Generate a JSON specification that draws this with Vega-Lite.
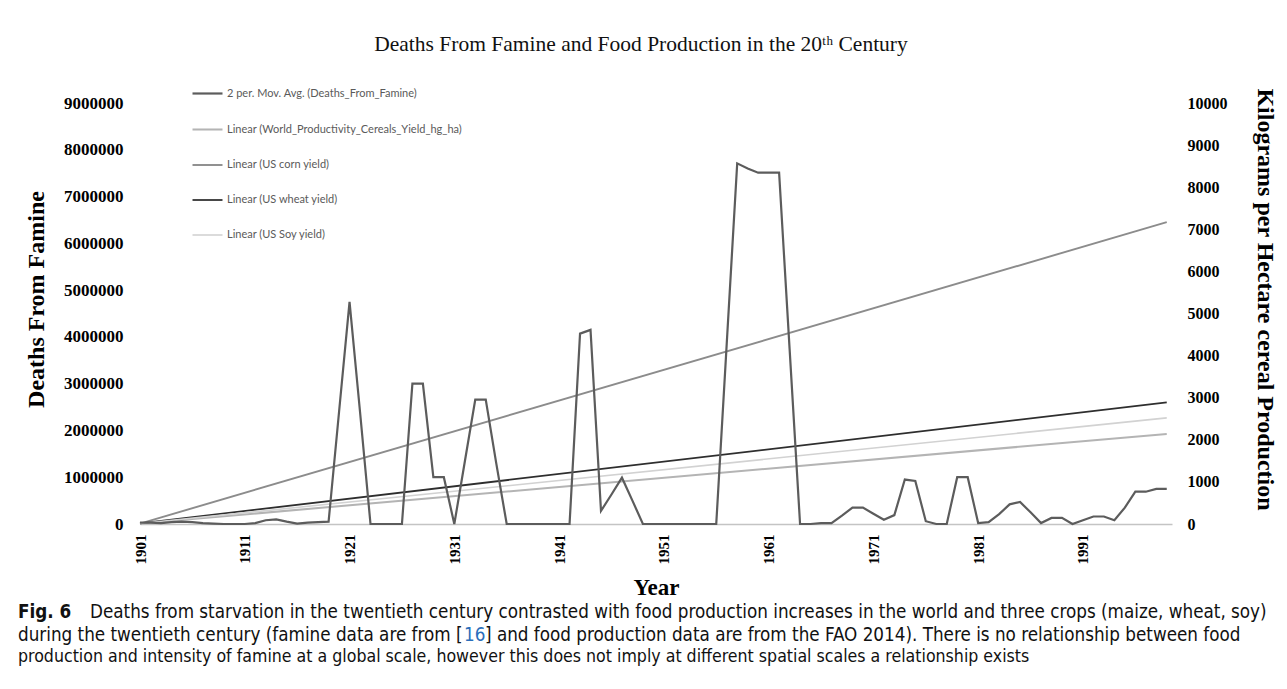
{
  "$schema": "https://vega.github.io/schema/vega-lite/v6.json",
  "background": "white",
  "padding": {"left": 18, "top": 34, "right": 4, "bottom": 5},
  "columns": 1,
  "align": "none",
  "bounds": "full",
  "spacing": 4,
  "datasets": {
    "famine": [
      {"s":"famine","year":1901,"deaths":30000},{"s":"famine","year":1902,"deaths":30000},{"s":"famine","year":1903,"deaths":20000},{"s":"famine","year":1904,"deaths":40000},{"s":"famine","year":1905,"deaths":50000},{"s":"famine","year":1906,"deaths":40000},{"s":"famine","year":1907,"deaths":20000},{"s":"famine","year":1908,"deaths":10000},{"s":"famine","year":1909,"deaths":0},{"s":"famine","year":1910,"deaths":0},
      {"s":"famine","year":1911,"deaths":0},{"s":"famine","year":1912,"deaths":20000},{"s":"famine","year":1913,"deaths":80000},{"s":"famine","year":1914,"deaths":100000},{"s":"famine","year":1915,"deaths":50000},{"s":"famine","year":1916,"deaths":10000},{"s":"famine","year":1917,"deaths":30000},{"s":"famine","year":1918,"deaths":40000},{"s":"famine","year":1919,"deaths":50000},{"s":"famine","year":1920,"deaths":2400000},
      {"s":"famine","year":1921,"deaths":4750000},{"s":"famine","year":1922,"deaths":2400000},{"s":"famine","year":1923,"deaths":0},{"s":"famine","year":1924,"deaths":0},{"s":"famine","year":1925,"deaths":0},{"s":"famine","year":1926,"deaths":0},{"s":"famine","year":1927,"deaths":3000000},{"s":"famine","year":1928,"deaths":3000000},{"s":"famine","year":1929,"deaths":1000000},{"s":"famine","year":1930,"deaths":1000000},
      {"s":"famine","year":1931,"deaths":0},{"s":"famine","year":1932,"deaths":1330000},{"s":"famine","year":1933,"deaths":2660000},{"s":"famine","year":1934,"deaths":2660000},{"s":"famine","year":1935,"deaths":1300000},{"s":"famine","year":1936,"deaths":0},{"s":"famine","year":1937,"deaths":0},{"s":"famine","year":1938,"deaths":0},{"s":"famine","year":1939,"deaths":0},{"s":"famine","year":1940,"deaths":0},
      {"s":"famine","year":1941,"deaths":0},{"s":"famine","year":1942,"deaths":0},{"s":"famine","year":1943,"deaths":4070000},{"s":"famine","year":1944,"deaths":4150000},{"s":"famine","year":1945,"deaths":280000},{"s":"famine","year":1946,"deaths":630000},{"s":"famine","year":1947,"deaths":990000},{"s":"famine","year":1948,"deaths":500000},{"s":"famine","year":1949,"deaths":0},{"s":"famine","year":1950,"deaths":0},
      {"s":"famine","year":1951,"deaths":0},{"s":"famine","year":1952,"deaths":0},{"s":"famine","year":1953,"deaths":0},{"s":"famine","year":1954,"deaths":0},{"s":"famine","year":1955,"deaths":0},{"s":"famine","year":1956,"deaths":0},{"s":"famine","year":1957,"deaths":3850000},{"s":"famine","year":1958,"deaths":7710000},{"s":"famine","year":1959,"deaths":7600000},{"s":"famine","year":1960,"deaths":7510000},
      {"s":"famine","year":1961,"deaths":7510000},{"s":"famine","year":1962,"deaths":7510000},{"s":"famine","year":1963,"deaths":3750000},{"s":"famine","year":1964,"deaths":0},{"s":"famine","year":1965,"deaths":0},{"s":"famine","year":1966,"deaths":20000},{"s":"famine","year":1967,"deaths":20000},{"s":"famine","year":1968,"deaths":180000},{"s":"famine","year":1969,"deaths":350000},{"s":"famine","year":1970,"deaths":350000},
      {"s":"famine","year":1971,"deaths":220000},{"s":"famine","year":1972,"deaths":90000},{"s":"famine","year":1973,"deaths":190000},{"s":"famine","year":1974,"deaths":950000},{"s":"famine","year":1975,"deaths":920000},{"s":"famine","year":1976,"deaths":60000},{"s":"famine","year":1977,"deaths":0},{"s":"famine","year":1978,"deaths":0},{"s":"famine","year":1979,"deaths":1000000},{"s":"famine","year":1980,"deaths":1000000},
      {"s":"famine","year":1981,"deaths":20000},{"s":"famine","year":1982,"deaths":40000},{"s":"famine","year":1983,"deaths":210000},{"s":"famine","year":1984,"deaths":420000},{"s":"famine","year":1985,"deaths":470000},{"s":"famine","year":1986,"deaths":250000},{"s":"famine","year":1987,"deaths":20000},{"s":"famine","year":1988,"deaths":130000},{"s":"famine","year":1989,"deaths":130000},{"s":"famine","year":1990,"deaths":0},
      {"s":"famine","year":1991,"deaths":80000},{"s":"famine","year":1992,"deaths":160000},{"s":"famine","year":1993,"deaths":160000},{"s":"famine","year":1994,"deaths":80000},{"s":"famine","year":1995,"deaths":350000},{"s":"famine","year":1996,"deaths":690000},{"s":"famine","year":1997,"deaths":690000},{"s":"famine","year":1998,"deaths":750000},{"s":"famine","year":1999,"deaths":750000}
    ],
    "trends": [
      {"s":"world","year":1901,"kg":10},{"s":"world","year":1999,"kg":2140},
      {"s":"corn","year":1901,"kg":10},{"s":"corn","year":1999,"kg":7170},
      {"s":"wheat","year":1901,"kg":15},{"s":"wheat","year":1999,"kg":2890},
      {"s":"soy","year":1901,"kg":10},{"s":"soy","year":1999,"kg":2520}
    ],
    "caption": [
      {"line":1,"part":"fig","text":"Fig. 6"},
      {"line":1,"part":"first","text":"Deaths from starvation in the twentieth century contrasted with food production increases in the world and three crops (maize, wheat, soy)"},
      {"line":2,"part":"l2a","text":"during the twentieth century (famine data are from ["},
      {"line":2,"part":"l2b","text":"16"},
      {"line":2,"part":"l2c","text":"] and food production data are from the FAO 2014). There is no relationship between food"},
      {"line":3,"part":"last","text":"production and intensity of famine at a global scale, however this does not imply at different spatial scales a relationship exists"}
    ]
  },
  "concat": [
    {
      "title": {"text": "Deaths From Famine and Food Production in the 20ᵗʰ Century", "font": "Liberation Serif", "fontSize": 21.5, "fontWeight": "normal", "color": "#111111", "anchor": "middle", "offset": 32, "dx": -15},
      "width": 1032,
      "height": 421,
      "layer": [
        {
          "data": {"name": "trends"},
          "mark": {"type": "line"},
          "encoding": {
            "x": {"field": "year", "type": "quantitative", "scale": {"domain": [1901, 1999.5], "nice": false, "zero": false},
                  "axis": {"values": [1901,1911,1921,1931,1941,1951,1961,1971,1981,1991], "format": "d", "labelAngle": -90, "labelPadding": 10, "title": "Year", "titlePadding": 12, "titleFontSize": 23}},
            "y": {"field": "kg", "type": "quantitative", "scale": {"domain": [0, 10000], "nice": false},
                  "axis": {"orient": "right", "values": [0,1000,2000,3000,4000,5000,6000,7000,8000,9000,10000], "format": "d", "labelPadding": 15, "title": "Kilograms per Hectare cereal Production", "titlePadding": 25, "titleFontSize": 24, "titleY": 196}},
            "color": {"field": "s", "type": "nominal",
                      "scale": {"domain": ["famine","world","corn","wheat","soy"], "range": ["#5c5c5c","#b4b4b4","#8c8c8c","#2e2e2e","#d2d2d2"]},
                      "legend": {"orient": "none", "legendX": 51, "legendY": -26, "title": null, "symbolType": "stroke", "symbolSize": 900, "labelOffset": 3, "labelFont": "Lato", "labelFontSize": 11, "labelColor": "#5a5a5a", "labelLimit": 400, "rowPadding": 14,
                                 "labelExpr": "{'famine': '2 per. Mov. Avg. (Deaths_From_Famine)', 'world': 'Linear (World_Productivity_Cereals_Yield_hg_ha)', 'corn': 'Linear (US corn yield)', 'wheat': 'Linear (US wheat yield)', 'soy': 'Linear (US Soy yield)'}[datum.label]"}},
            "strokeWidth": {"field": "s", "type": "nominal", "scale": {"domain": ["famine","world","corn","wheat","soy"], "range": [2.2, 1.6, 1.8, 2.2, 1.6]}, "legend": null}
          }
        },
        {
          "data": {"name": "famine"},
          "mark": {"type": "line"},
          "encoding": {
            "x": {"field": "year", "type": "quantitative", "scale": {"domain": [1901, 1999.5], "nice": false, "zero": false},
                  "axis": {"values": [1901,1911,1921,1931,1941,1951,1961,1971,1981,1991], "format": "d", "labelAngle": -90, "labelPadding": 10, "title": "Year", "titlePadding": 12, "titleFontSize": 23}},
            "y": {"field": "deaths", "type": "quantitative", "scale": {"domain": [0, 9000000], "nice": false},
                  "axis": {"orient": "left", "values": [0,1000000,2000000,3000000,4000000,5000000,6000000,7000000,8000000,9000000], "format": "d", "labelPadding": 17, "labelFontSize": 17, "title": "Deaths From Famine", "titlePadding": 15, "titleFontSize": 24, "titleY": 196}},
            "color": {"field": "s", "type": "nominal"},
            "strokeWidth": {"field": "s", "type": "nominal", "legend": null}
          }
        }
      ],
      "resolve": {"scale": {"y": "independent"}}
    },
    {
      "width": 1000,
      "height": 45,
      "data": {"name": "caption"},
      "encoding": {"x": {"value": -122}, "y": {"field": "line", "type": "ordinal", "axis": null, "scale": {"type": "point", "padding": 0}}, "text": {"field": "text"}},
      "layer": [
        {
          "transform": [{"filter": "datum.part == 'fig'"}],
          "mark": {"type": "text", "align": "left", "baseline": "middle", "font": "DejaVu Sans Condensed, sans-serif", "fontSize": 18.7, "fontWeight": "bold", "color": "#111111"}
        },
        {
          "transform": [{"filter": "datum.part == 'first'"}],
          "mark": {"type": "text", "align": "left", "baseline": "middle", "font": "DejaVu Sans Condensed, sans-serif", "fontSize": 18.7, "color": "#111111", "dx": 72}
        },
        {
          "transform": [{"filter": "datum.part == 'l2a'"}],
          "mark": {"type": "text", "align": "left", "baseline": "middle", "font": "DejaVu Sans Condensed, sans-serif", "fontSize": 18.7, "color": "#111111"}
        },
        {
          "transform": [{"filter": "datum.part == 'l2b'"}],
          "mark": {"type": "text", "align": "left", "baseline": "middle", "font": "DejaVu Sans Condensed, sans-serif", "fontSize": 18.7, "color": "#2a6ebb", "dx": 446}
        },
        {
          "transform": [{"filter": "datum.part == 'l2c'"}],
          "mark": {"type": "text", "align": "left", "baseline": "middle", "font": "DejaVu Sans Condensed, sans-serif", "fontSize": 18.7, "color": "#111111", "dx": 467}
        },
        {
          "transform": [{"filter": "datum.part == 'last'"}],
          "mark": {"type": "text", "align": "left", "baseline": "middle", "font": "DejaVu Sans Condensed, sans-serif", "fontSize": 17.6, "color": "#111111"}
        }
      ]
    }
  ],
  "config": {
    "view": {"stroke": null},
    "axis": {"labelFont": "Liberation Serif", "labelFontWeight": "bold", "labelFontSize": 16, "labelColor": "#000000", "titleFont": "Liberation Serif", "titleFontWeight": "bold", "titleFontSize": 22, "titleColor": "#000000", "ticks": false, "grid": false, "domain": false},
    "axisX": {"domain": true, "domainColor": "#c4c4c4", "domainWidth": 1.5, "labelFontSize": 15}
  }
}
